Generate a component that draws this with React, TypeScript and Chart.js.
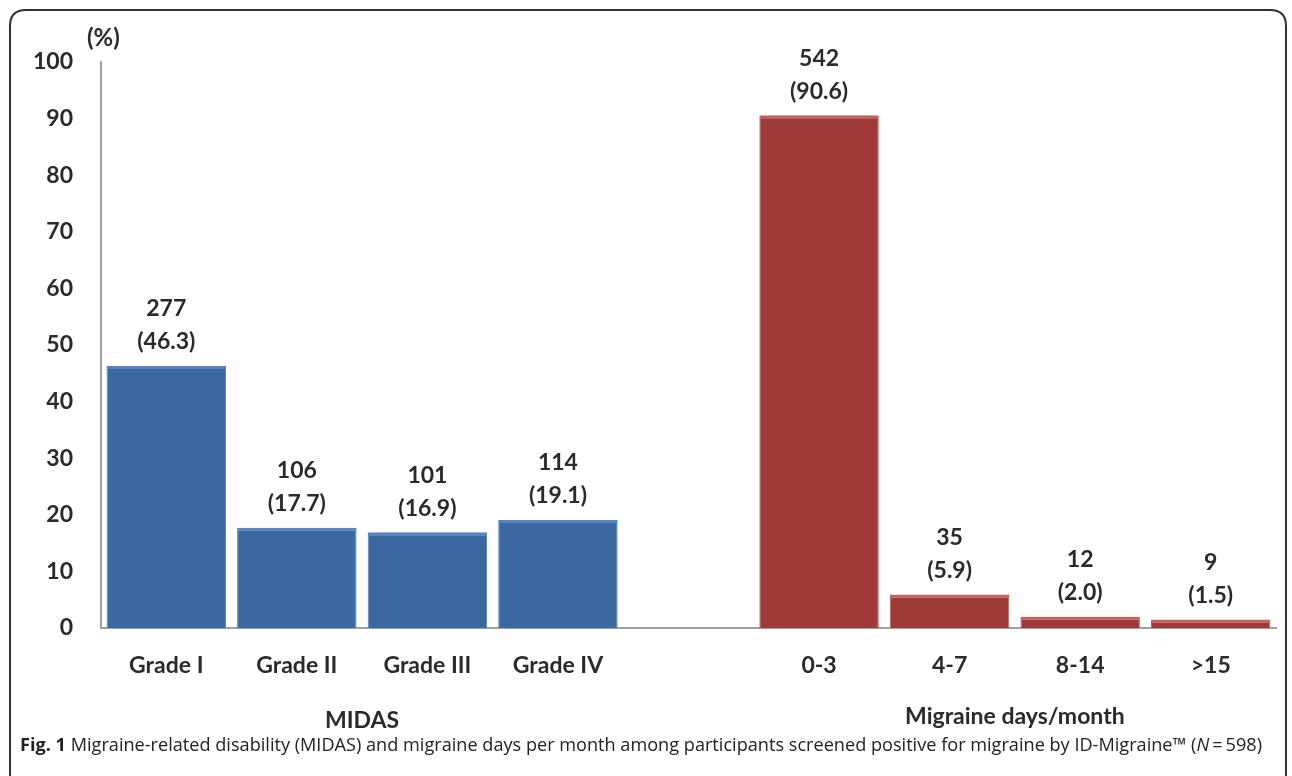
import React, { useEffect, useRef } from "react";
import { Chart, registerables } from "chart.js";

Chart.register(...registerables);

const categories = ["Grade I", "Grade II", "Grade III", "Grade IV", "", "0-3", "4-7", "8-14", ">15"];
const percentValues = [46.3, 17.7, 16.9, 19.1, null, 90.6, 5.9, 2.0, 1.5];
const countValues = [277, 106, 101, 114, null, 542, 35, 12, 9];
const percentLabels = ["(46.3)", "(17.7)", "(16.9)", "(19.1)", "", "(90.6)", "(5.9)", "(2.0)", "(1.5)"];
const groupLabels = ["MIDAS", "Migraine days/month"];
const groupRanges = [[0, 3], [5, 8]];

const BLUE = "#3c68a0";
const BLUE_EDGE = "#5585c4";
const RED = "#9e3a38";
const RED_EDGE = "#c9605c";

const W = 1292;
const H = 776;
const FONT = "Lato";
const TEXT = "#2a2a2a";

export default function App() {
  const ref = useRef<HTMLCanvasElement | null>(null);

  useEffect(() => {
    const canvas = ref.current;
    if (!canvas) return;
    const colors = categories.map((_, i) => (i < 4 ? BLUE : RED));
    const edges = categories.map((_, i) => (i < 4 ? BLUE_EDGE : RED_EDGE));

    const overlay = {
      id: "overlay",
      beforeDraw(chart: any) {
        const ctx = chart.ctx;
        ctx.save();
        ctx.fillStyle = "#ffffff";
        ctx.fillRect(0, 0, W, H);
        ctx.strokeStyle = "#333333";
        ctx.lineWidth = 2;
        const x0 = 10, y0 = 10, x1 = 1286, r = 16;
        ctx.beginPath();
        ctx.moveTo(x0, H + 5);
        ctx.lineTo(x0, y0 + r);
        ctx.quadraticCurveTo(x0, y0, x0 + r, y0);
        ctx.lineTo(x1 - r, y0);
        ctx.quadraticCurveTo(x1, y0, x1, y0 + r);
        ctx.lineTo(x1, H + 5);
        ctx.stroke();
        ctx.restore();
      },
      afterDatasetsDraw(chart: any) {
        const ctx = chart.ctx;
        const meta = chart.getDatasetMeta(0);
        const xs = chart.scales.x;
        ctx.save();
        ctx.fillStyle = TEXT;
        ctx.textAlign = "center";
        ctx.textBaseline = "middle";
        ctx.font = `bold 23px ${FONT}`;
        meta.data.forEach((bar: any, i: number) => {
          if (percentValues[i] == null) return;
          ctx.fillText(String(countValues[i]), bar.x, bar.y - 57);
          ctx.fillText(percentLabels[i], bar.x, bar.y - 24);
        });
        ctx.textAlign = "left";
        ctx.font = `bold 24px ${FONT}`;
        ctx.fillText("(%)", 87, 38);
        ctx.textAlign = "center";
        ctx.font = `bold 23px ${FONT}`;
        groupRanges.forEach((g, k) => {
          const cx = (xs.getPixelForValue(g[0]) + xs.getPixelForValue(g[1])) / 2;
          ctx.fillText(groupLabels[k], cx, k === 0 ? 721 : 717);
        });
        const y = 746;
        const segs: [string, string][] = [
          [`bold 18px "Open Sans"`, "Fig. 1 "],
          [`18px "Open Sans"`, "Migraine-related disability (MIDAS) and migraine days per month among participants screened positive for migraine by ID-Migraine\u2122 ("],
          [`italic 18px "Open Sans"`, "N"],
          [`18px "Open Sans"`, "\u2009=\u2009598)"],
        ];
        let total = 0;
        segs.forEach(([f, t]) => { ctx.font = f; total += ctx.measureText(t).width; });
        const target = 1262 - 20;
        const k = target / total;
        ctx.translate(20, y);
        ctx.scale(k, 1);
        ctx.textAlign = "left";
        ctx.fillStyle = "#222222";
        let x = 0;
        segs.forEach(([f, t]) => {
          ctx.font = f;
          ctx.fillText(t, x, 0);
          x += ctx.measureText(t).width;
        });
        ctx.restore();
      },
    };

    const chart = new Chart(canvas, {
      type: "bar",
      data: {
        labels: categories,
        datasets: [
          {
            data: percentValues as any,
            backgroundColor: colors,
            borderColor: edges,
            borderWidth: { top: 3, left: 1, right: 1, bottom: 0 } as any,
            barPercentage: 0.915,
            categoryPercentage: 1,
          },
        ],
      },
      options: {
        responsive: false,
        animation: false,
        devicePixelRatio: 1,
        layout: { padding: { top: 62, right: 16, left: 0, bottom: 0 } },
        plugins: { legend: { display: false }, tooltip: { enabled: false }, title: { display: false } },
        scales: {
          y: {
            min: 0,
            max: 100,
            ticks: {
              stepSize: 10,
              padding: 28,
              color: TEXT,
              font: { family: FONT, weight: "bold", size: 23 },
            },
            grid: { display: false, drawTicks: false },
            border: { display: true, color: "#a0a0a0", width: 2 },
            afterFit(scale: any) { scale.width = 101; },
          },
          x: {
            ticks: {
              padding: 24,
              color: TEXT,
              font: { family: FONT, weight: "bold", size: 23 },
              maxRotation: 0,
              autoSkip: false,
            },
            grid: { display: false, drawTicks: false },
            border: { display: true, color: "#a0a0a0", width: 2 },
            afterFit(scale: any) { scale.height = H - 628; },
          },
        },
      },
      plugins: [overlay],
    });
    return () => chart.destroy();
  }, []);

  return (
    <div style={{ position: "absolute", left: 0, top: 0, width: W, height: H, background: "#fff" }}>
      <canvas ref={ref} width={W} height={H} style={{ width: W, height: H, display: "block" }} />
    </div>
  );
}
